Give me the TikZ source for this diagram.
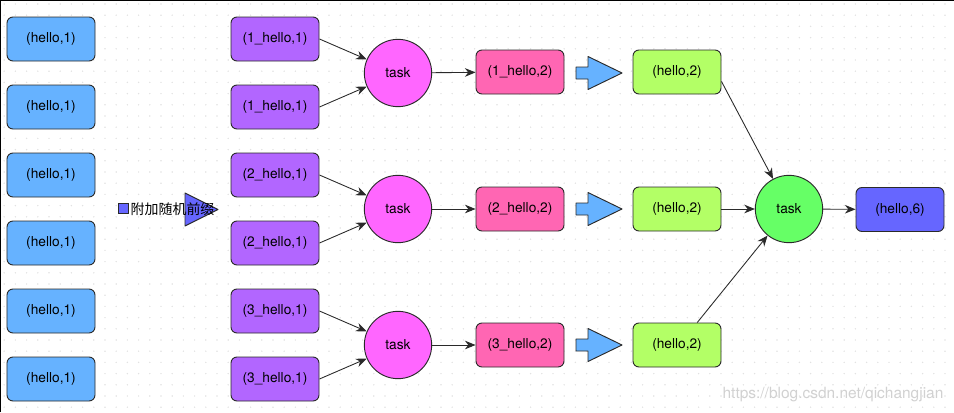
\documentclass[tikz,border=0pt]{standalone}
\usepackage{fontspec}
\setmainfont{TeX Gyre Heros}
\newfontfamily\cjk{Noto Sans CJK SC}
\usetikzlibrary{arrows.meta}
\definecolor{srcblue}{HTML}{66B2FF}
\definecolor{saltpurple}{HTML}{B266FF}
\definecolor{partpink}{HTML}{FF66B3}
\definecolor{taskpink}{HTML}{FF66FF}
\definecolor{aggrgreen}{HTML}{B3FF66}
\definecolor{finalgreen}{HTML}{66FF66}
\definecolor{finalblue}{HTML}{6666FF}
\definecolor{edgegray}{HTML}{2A2A2A}
\definecolor{dotgray}{HTML}{E2E2E2}

\begin{document}
\begin{tikzpicture}[
                x=0.3mm, y=-0.3mm,
                every node/.append style={font=\fontsize{11.7}{13}\selectfont},
                kv/.style={rectangle,rounded corners=1.8mm,draw=edgegray,line width=0.8pt,
                    minimum width=26.4mm,minimum height=13.2mm,inner sep=0pt},
                task/.style={circle,draw=edgegray,line width=0.8pt,minimum size=20.2mm,inner sep=0pt},
                flow/.style={-{Stealth[length=3.2mm,width=2.6mm]},line width=0.75pt,draw=edgegray},
                blockarrow/.pic={
                    \filldraw[fill=srcblue,draw=edgegray,line width=0.8pt,line join=round]
                        (-23,-6) -- (-11,-6) -- (-11,-16.5) -- (23,0) -- (-11,16.5)
                        -- (-11,6) -- (-23,6) -- cycle;
                }
            ]
                \useasboundingbox (0,0) rectangle (954,412);
                % dotted canvas
                \foreach \i in {0,...,84}
                    \foreach \j in {0,...,36}
                        \fill[dotgray] (4.2+\i*11.2,4+\j*11.2) circle (0.7pt);
                \draw[black,line width=1.3pt] (0.7,412) -- (0.7,0.7) -- (954,0.7);

                % source records
                \node (s1) [kv,fill=srcblue] at (51,39)  {(hello,1)};
                \node (s2) [kv,fill=srcblue] at (51,107) {(hello,1)};
                \node (s3) [kv,fill=srcblue] at (51,175) {(hello,1)};
                \node (s4) [kv,fill=srcblue] at (51,243) {(hello,1)};
                \node (s5) [kv,fill=srcblue] at (51,311) {(hello,1)};
                \node (s6) [kv,fill=srcblue] at (51,379) {(hello,1)};

                % random prefix step
                \filldraw[fill=finalblue,draw=edgegray,line width=0.8pt,line join=round]
                    (185,193) -- (218,209.5) -- (185,226) -- cycle;
                \node (sq) [rectangle,draw=edgegray,fill=finalblue,line width=0.6pt,
                    minimum size=3.2mm,inner sep=0pt] at (123.5,208.5) {};
                \node (prefix) [anchor=west,inner sep=0pt,font=\cjk\fontsize{11.9}{13}\selectfont]
                    at (130.5,209) {附加随机前缀};

                % salted records
                \node (a1) [kv,fill=saltpurple] at (275,39)  {(1\_hello,1)};
                \node (a2) [kv,fill=saltpurple] at (275,107) {(1\_hello,1)};
                \node (a3) [kv,fill=saltpurple] at (275,175) {(2\_hello,1)};
                \node (a4) [kv,fill=saltpurple] at (275,243) {(2\_hello,1)};
                \node (a5) [kv,fill=saltpurple] at (275,311) {(3\_hello,1)};
                \node (a6) [kv,fill=saltpurple] at (275,379) {(3\_hello,1)};

                % first aggregation
                \node (t1) [task,fill=taskpink] at (398,73)  {task};
                \node (t2) [task,fill=taskpink] at (398,209) {task};
                \node (t3) [task,fill=taskpink] at (398,345) {task};

                \node (p1) [kv,fill=partpink] at (520,72)  {(1\_hello,2)};
                \node (p2) [kv,fill=partpink] at (520,209) {(2\_hello,2)};
                \node (p3) [kv,fill=partpink] at (520,345) {(3\_hello,2)};

                \pic at (599,73)  {blockarrow};
                \pic at (599,209) {blockarrow};
                \pic at (599,345) {blockarrow};

                \node (g1) [kv,fill=aggrgreen] at (677,72)  {(hello,2)};
                \node (g2) [kv,fill=aggrgreen] at (677,209) {(hello,2)};
                \node (g3) [kv,fill=aggrgreen] at (677,345) {(hello,2)};

                % final aggregation
                \node (c) [task,fill=finalgreen] at (789,209) {task};
                \node (f) [kv,fill=finalblue] at (900,209.5) {(hello,6)};

                \draw[flow] (a1.east) -- (t1);
                \draw[flow] (a2.east) -- (t1);
                \draw[flow] (a3.east) -- (t2);
                \draw[flow] (a4.east) -- (t2);
                \draw[flow] (a5.east) -- (t3);
                \draw[flow] (a6.east) -- (t3);
                \draw[flow] (t1) -- (p1);
                \draw[flow] (t2) -- (p2);
                \draw[flow] (t3) -- (p3);
                \draw[flow] (g1.-12) -- (c);
                \draw[flow] (g2) -- (c);
                \draw[flow] (g3.48) -- (c);
                \draw[flow] (c) -- (f);

                \node (mark) [text=black!18,font=\fontsize{13.2}{15}\selectfont,inner sep=0pt]
                    at (833,395) {https://blog.csdn.net/qichangjian};
            \end{tikzpicture}
\end{document}
